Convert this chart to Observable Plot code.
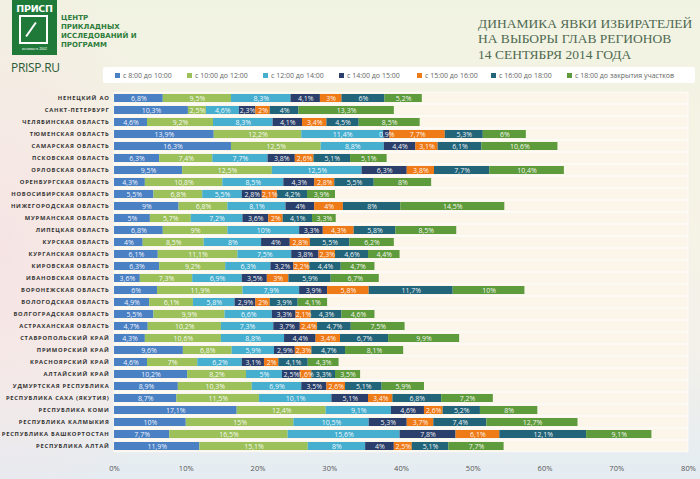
<!DOCTYPE html>
<html><head><meta charset="utf-8">
<script src="https://cdn.jsdelivr.net/npm/d3@7"></script>
<script src="https://cdn.jsdelivr.net/npm/@observablehq/plot@0.6"></script>
<style>
body{margin:0;}
#wrap{position:relative;width:700px;height:479px;overflow:hidden;
 background:
  radial-gradient(ellipse 180px 300px at 0px 250px, rgba(246,226,228,0.9), rgba(246,226,228,0) 100%),
  linear-gradient(to bottom,#f1f3e2 0%,#f6f3e6 45%,#f2f0ea 75%,#e4ecf2 100%);
 font-family:"Open Sans",sans-serif;}
#chart{position:absolute;left:0;top:0;}
#logo{position:absolute;left:12px;top:0;width:45px;height:55px;background:#1f7a3a;}
#logo .t{position:absolute;left:0;top:3px;width:45px;text-align:center;color:#fff;font:bold 9.5px "DejaVu Sans",sans-serif;letter-spacing:-0.3px;}
#logo .f{position:absolute;left:7px;top:15px;width:29px;height:29px;border:2px solid #fff;box-sizing:border-box;}
#logo .f:after{content:"";position:absolute;left:9px;top:4px;width:2px;height:17px;background:#fff;transform:rotate(35deg);}
#logo .s{position:absolute;left:0;top:47px;width:45px;text-align:center;color:#fff;font:3.5px sans-serif;}
#site{position:absolute;left:11px;top:59px;font:12px "Open Sans",sans-serif;color:#2c5a36;letter-spacing:-0.3px;}
#org{position:absolute;left:61px;top:14px;font:bold 7px/9px "DejaVu Sans",sans-serif;color:#2e7d3c;}
#title{position:absolute;left:478px;top:16px;font:13.5px/15.3px "Liberation Serif",serif;color:#4f6a52;white-space:nowrap;}
#legend{position:absolute;left:103px;top:67px;width:592px;height:16px;background:#fff;border-radius:2px;
 display:flex;align-items:center;font:7px "Open Sans",sans-serif;color:#666;}
#legend .i{display:flex;align-items:center;position:absolute;top:4px;}
#legend .m{width:5px;height:5px;margin-right:3px;}
svg [aria-label="y-axis tick label"] text{letter-spacing:0.75px;}
</style></head>
<body>
<div id="wrap">
 <div id="chart"></div>
 <div id="logo"><div class="t">ПРИСП</div><div class="f"></div><div class="s">основан в 2002</div></div>
 <div id="site">PRISP.RU</div>
 <div id="org">ЦЕНТР<br>ПРИКЛАДНЫХ<br>ИССЛЕДОВАНИЙ И<br>ПРОГРАММ</div>
 <div id="title">ДИНАМИКА ЯВКИ ИЗБИРАТЕЛЕЙ<br>НА ВЫБОРЫ ГЛАВ РЕГИОНОВ<br>14 СЕНТЯБРЯ 2014 ГОДА</div>
 <div id="legend"></div>
</div>
<script>
const regions = [
 "НЕНЕЦКИЙ АО","САНКТ-ПЕТЕРБУРГ","ЧЕЛЯБИНСКАЯ ОБЛАСТЬ","ТЮМЕНСКАЯ ОБЛАСТЬ","САМАРСКАЯ ОБЛАСТЬ",
 "ПСКОВСКАЯ ОБЛАСТЬ","ОРЛОВСКАЯ ОБЛАСТЬ","ОРЕНБУРГСКАЯ ОБЛАСТЬ","НОВОСИБИРСКАЯ ОБЛАСТЬ","НИЖЕГОРОДСКАЯ ОБЛАСТЬ",
 "МУРМАНСКАЯ ОБЛАСТЬ","ЛИПЕЦКАЯ ОБЛАСТЬ","КУРСКАЯ ОБЛАСТЬ","КУРГАНСКАЯ ОБЛАСТЬ","КИРОВСКАЯ ОБЛАСТЬ",
 "ИВАНОВСКАЯ ОБЛАСТЬ","ВОРОНЕЖСКАЯ ОБЛАСТЬ","ВОЛОГОДСКАЯ ОБЛАСТЬ","ВОЛГОГРАДСКАЯ ОБЛАСТЬ","АСТРАХАНСКАЯ ОБЛАСТЬ",
 "СТАВРОПОЛЬСКИЙ КРАЙ","ПРИМОРСКИЙ КРАЙ","КРАСНОЯРСКИЙ КРАЙ","АЛТАЙСКИЙ КРАЙ","УДМУРТСКАЯ РЕСПУБЛИКА",
 "РЕСПУБЛИКА САХА (ЯКУТИЯ)","РЕСПУБЛИКА КОМИ","РЕСПУБЛИКА КАЛМЫКИЯ","РЕСПУБЛИКА БАШКОРТОСТАН","РЕСПУБЛИКА АЛТАЙ"];
const seriesNames = ["с 8:00 до 10:00","с 10:00 до 12:00","с 12:00 до 14:00","с 14:00 до 15:00","с 15:00 до 16:00","с 16:00 до 18:00","с 18:00 до закрытия участков"];
const colors = ["#4a80c4","#9cc05a","#46aecf","#2a3f6b","#ee7a18","#22647a","#5e9b3c"];
const s0810 = [6.8,10.3,4.6,13.9,16.3,6.3,9.5,4.3,5.5,9,5,6.8,4,6.1,6.3,3.6,6,4.9,5.5,4.7,4.3,9.6,4.6,10.2,8.9,8.7,17.1,10,7.7,11.9];
const s1012 = [9.5,2.5,9.2,12.2,12.5,7.4,12.5,10.8,6.8,6.8,5.7,9,8.5,11.1,9.2,7.3,11.9,6.1,9.9,10.2,10.6,6.8,7,8.2,10.3,11.5,12.4,15,16.5,15.1];
const s1214 = [8.3,4.6,8.3,11.4,8.8,7.7,12.5,8.5,5.5,8.1,7.2,10,8,7.5,6.3,6.9,7.9,5.8,6.6,7.3,8.8,5.9,6.2,5.0,6.9,10.1,9.1,10.5,15.6,8];
const s1415 = [4.1,2.3,4.1,0.9,4.4,3.8,6.3,4.3,2.8,4,3.6,3.3,4,3.8,3.2,3.5,3.9,2.9,3.3,3.7,4.4,2.9,3.1,2.5,3.5,5.1,4.6,5.3,7.8,4];
const s1516 = [3,2,3.4,7.7,3.1,2.6,3.8,2.8,2.1,4,2,4.3,2.8,2.3,2.2,3.0,5.8,2,2.1,2.4,3.4,2.3,2,1.6,2.6,3.4,2.6,3.7,6.1,2.5];
const s1618 = [6,4,4.5,5.3,6.1,5.1,7.7,5.5,4.2,8,4.1,5.8,5.5,4.6,4.4,5.9,11.7,3.9,4.3,4.7,6.7,4.7,4.1,3.3,5.1,6.8,5.2,7.4,12.1,5.1];
const s18end = [5.2,13.3,8.5,6.0,10.6,5.1,10.4,8.0,3.9,14.5,3.3,8.5,6.2,4.4,4.7,6.7,10,4.1,4.6,7.5,9.9,8.1,4.3,3.5,5.9,7.2,8,12.7,9.1,7.7];
const xTicks = [0,10,20,30,40,50,60,70,80];

const seriesValues = [s0810,s1012,s1214,s1415,s1516,s1618,s18end];
const data = [];
regions.forEach((r,i)=>seriesValues.forEach((arr,j)=>data.push({region:r, series:seriesNames[j], order:j, value:arr[i]})));
const fmt = v => String(v).replace(".", ",") + "%";
const xMax = xTicks[xTicks.length-1];

const chart = Plot.plot({
 width:700, height:479,
 marginTop:89.1, marginBottom:23.3, marginLeft:114, marginRight:12,
 style:{background:"transparent", fontFamily:"'Open Sans',sans-serif"},
 x:{domain:[0,xMax], axis:null},
 y:{domain:regions, padding:0.3, axis:null},
 color:{domain:seriesNames, range:colors},
 marks:[
  Plot.barX(regions,{x1:0, x2:xMax, y:d=>d, fill:"#fcf5ea", stroke:"#ffffff", strokeWidth:0.7, insetTop:-1.85, insetBottom:-1.85}),
  Plot.ruleX(xTicks.slice(1),{stroke:"#f09a50", strokeWidth:1, strokeDasharray:"2,1.5", y1:regions[0], y2:regions[regions.length-1], insetTop:-6, insetBottom:-6}),
  Plot.barX(data, Plot.stackX({x:"value", y:"region", fill:"series", order:null})),
  Plot.text(data, Plot.stackX({x:"value", y:"region", z:"series", order:null, text:d=>fmt(d.value), fill:"#fff", fontSize:7, fillOpacity:0.95})),
  Plot.axisY({tickSize:0, tickPadding:5, fontSize:5.8, fontWeight:"bold", fill:"#333", label:null}),
  Plot.axisX({ticks:xTicks, tickSize:0, tickPadding:9, fontSize:7.5, fill:"#555", label:null, tickFormat:d=>d+"%"})
 ]
});
document.getElementById("chart").appendChild(chart);

const lg = document.getElementById("legend");
const lx = [12,84,160,236,314,388,464];
seriesNames.forEach((s,i)=>{
 const it = document.createElement("div"); it.className="i"; it.style.left = lx[i]+"px";
 it.innerHTML = `<span class="m" style="background:${colors[i]}"></span><span>${s}</span>`;
 lg.appendChild(it);
});
</script>
</body></html>
